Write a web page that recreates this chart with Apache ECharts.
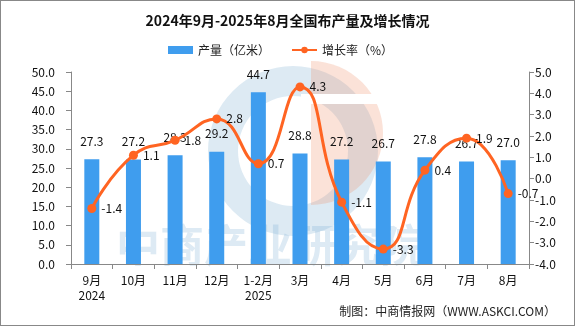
<!DOCTYPE html>
<html><head><meta charset="utf-8">
<script src="https://cdn.jsdelivr.net/npm/echarts@6/dist/echarts.min.js"></script>
<style>html,body{margin:0;padding:0;background:#fff}#c{width:575px;height:326px;box-sizing:border-box;border:1px solid #888}</style>
</head><body><div id="c"></div>
<script>
const categories = ['9月\n2024','10月','11月','12月','1-2月\n2025','3月','4月','5月','6月','7月','8月'];
const output = [27.3, 27.2, 28.3, 29.2, 44.7, 28.8, 27.2, 26.7, 27.8, 26.7, 27.0];
const growth = [-1.4, 1.1, 1.8, 2.8, 0.7, 4.3, -1.1, -3.3, 0.4, 1.9, -0.7];
const font = '"Noto Sans CJK SC", sans-serif';
const chart = echarts.init(document.getElementById('c'));
chart.setOption({
  animation: false,
  textStyle: {fontFamily: font},
  title: {text: '2024年9月-2025年8月全国布产量及增长情况', left: 'center', top: 8,
    textStyle: {fontSize: 14, fontWeight: 'bold', color: '#111', fontFamily: font}},
  legend: {top: 38, left: 162, itemGap: 21, itemWidth: 25, itemHeight: 8,
    textStyle: {fontSize: 12, color: '#222'},
    data: [{name: '产量（亿米）', icon: 'rect'}, {name: '增长率（%）'}]},
  graphic: [
    {type: 'ring', shape: {cx: 292, cy: 150, r: 85, r0: 55}, style: {fill: 'rgba(100,160,200,0.22)'}, z: -10, silent: true},
    {type: 'sector', shape: {cx: 310, cy: 132, r: 72, r0: 0, startAngle: -Math.PI/2, endAngle: Math.PI/2}, style: {fill: 'rgba(240,140,100,0.25)'}, z: -9, silent: true},
    {type: 'rect', shape: {x: 300, y: 93, width: 80, height: 10}, style: {fill: '#fff'}, z: -8, silent: true},
    {type: 'text', left: 115, top: 222, style: {text: '中商产业研究院', font: 'bold 44px ' + font, fill: 'rgba(120,170,210,0.25)'}, z: -10, silent: true},
    {type: 'text', right: 18, top: 304, style: {text: '制图：中商情报网（WWW.ASKCI.COM）', font: '12px ' + font, fill: '#222'}}
  ],
  grid: {left: 70, right: 45, top: 71, bottom: 61},
  xAxis: {type: 'category', data: categories,
    axisLine: {lineStyle: {color: '#888'}}, axisTick: {show: true, lineStyle: {color: '#888'}},
    axisLabel: {color: '#111', fontSize: 12, interval: 0, margin: 9, lineHeight: 15}},
  yAxis: [
    {type: 'value', min: 0, max: 50, interval: 5, splitLine: {show: false},
      axisLine: {show: true, lineStyle: {color: '#888'}}, axisTick: {show: true, lineStyle: {color: '#888'}},
      axisLabel: {color: '#111', fontSize: 12, margin: 16, formatter: v => v.toFixed(1)}},
    {type: 'value', min: -4, max: 5, interval: 1, splitLine: {show: false}, alignTicks: false,
      axisLine: {show: true, lineStyle: {color: '#888'}}, axisTick: {show: true, lineStyle: {color: '#888'}},
      axisLabel: {color: '#111', fontSize: 12, margin: 6, formatter: v => v.toFixed(1)}}
  ],
  series: [
    {name: '产量（亿米）', type: 'bar', data: output, barWidth: 15, itemStyle: {color: '#3f9dee'},
      label: {show: true, position: 'top', distance: 12, color: '#111', fontSize: 12, formatter: p => p.value.toFixed(1)}},
    {name: '增长率（%）', type: 'line', yAxisIndex: 1, data: growth, smooth: true,
      symbol: 'circle', symbolSize: 9, lineStyle: {color: '#ff6422', width: 3}, itemStyle: {color: '#ff6422'},
      label: {show: true, position: 'right', distance: 5, color: '#111', fontSize: 12, formatter: p => p.value.toFixed(1)}}
  ]
});
</script></body></html>
